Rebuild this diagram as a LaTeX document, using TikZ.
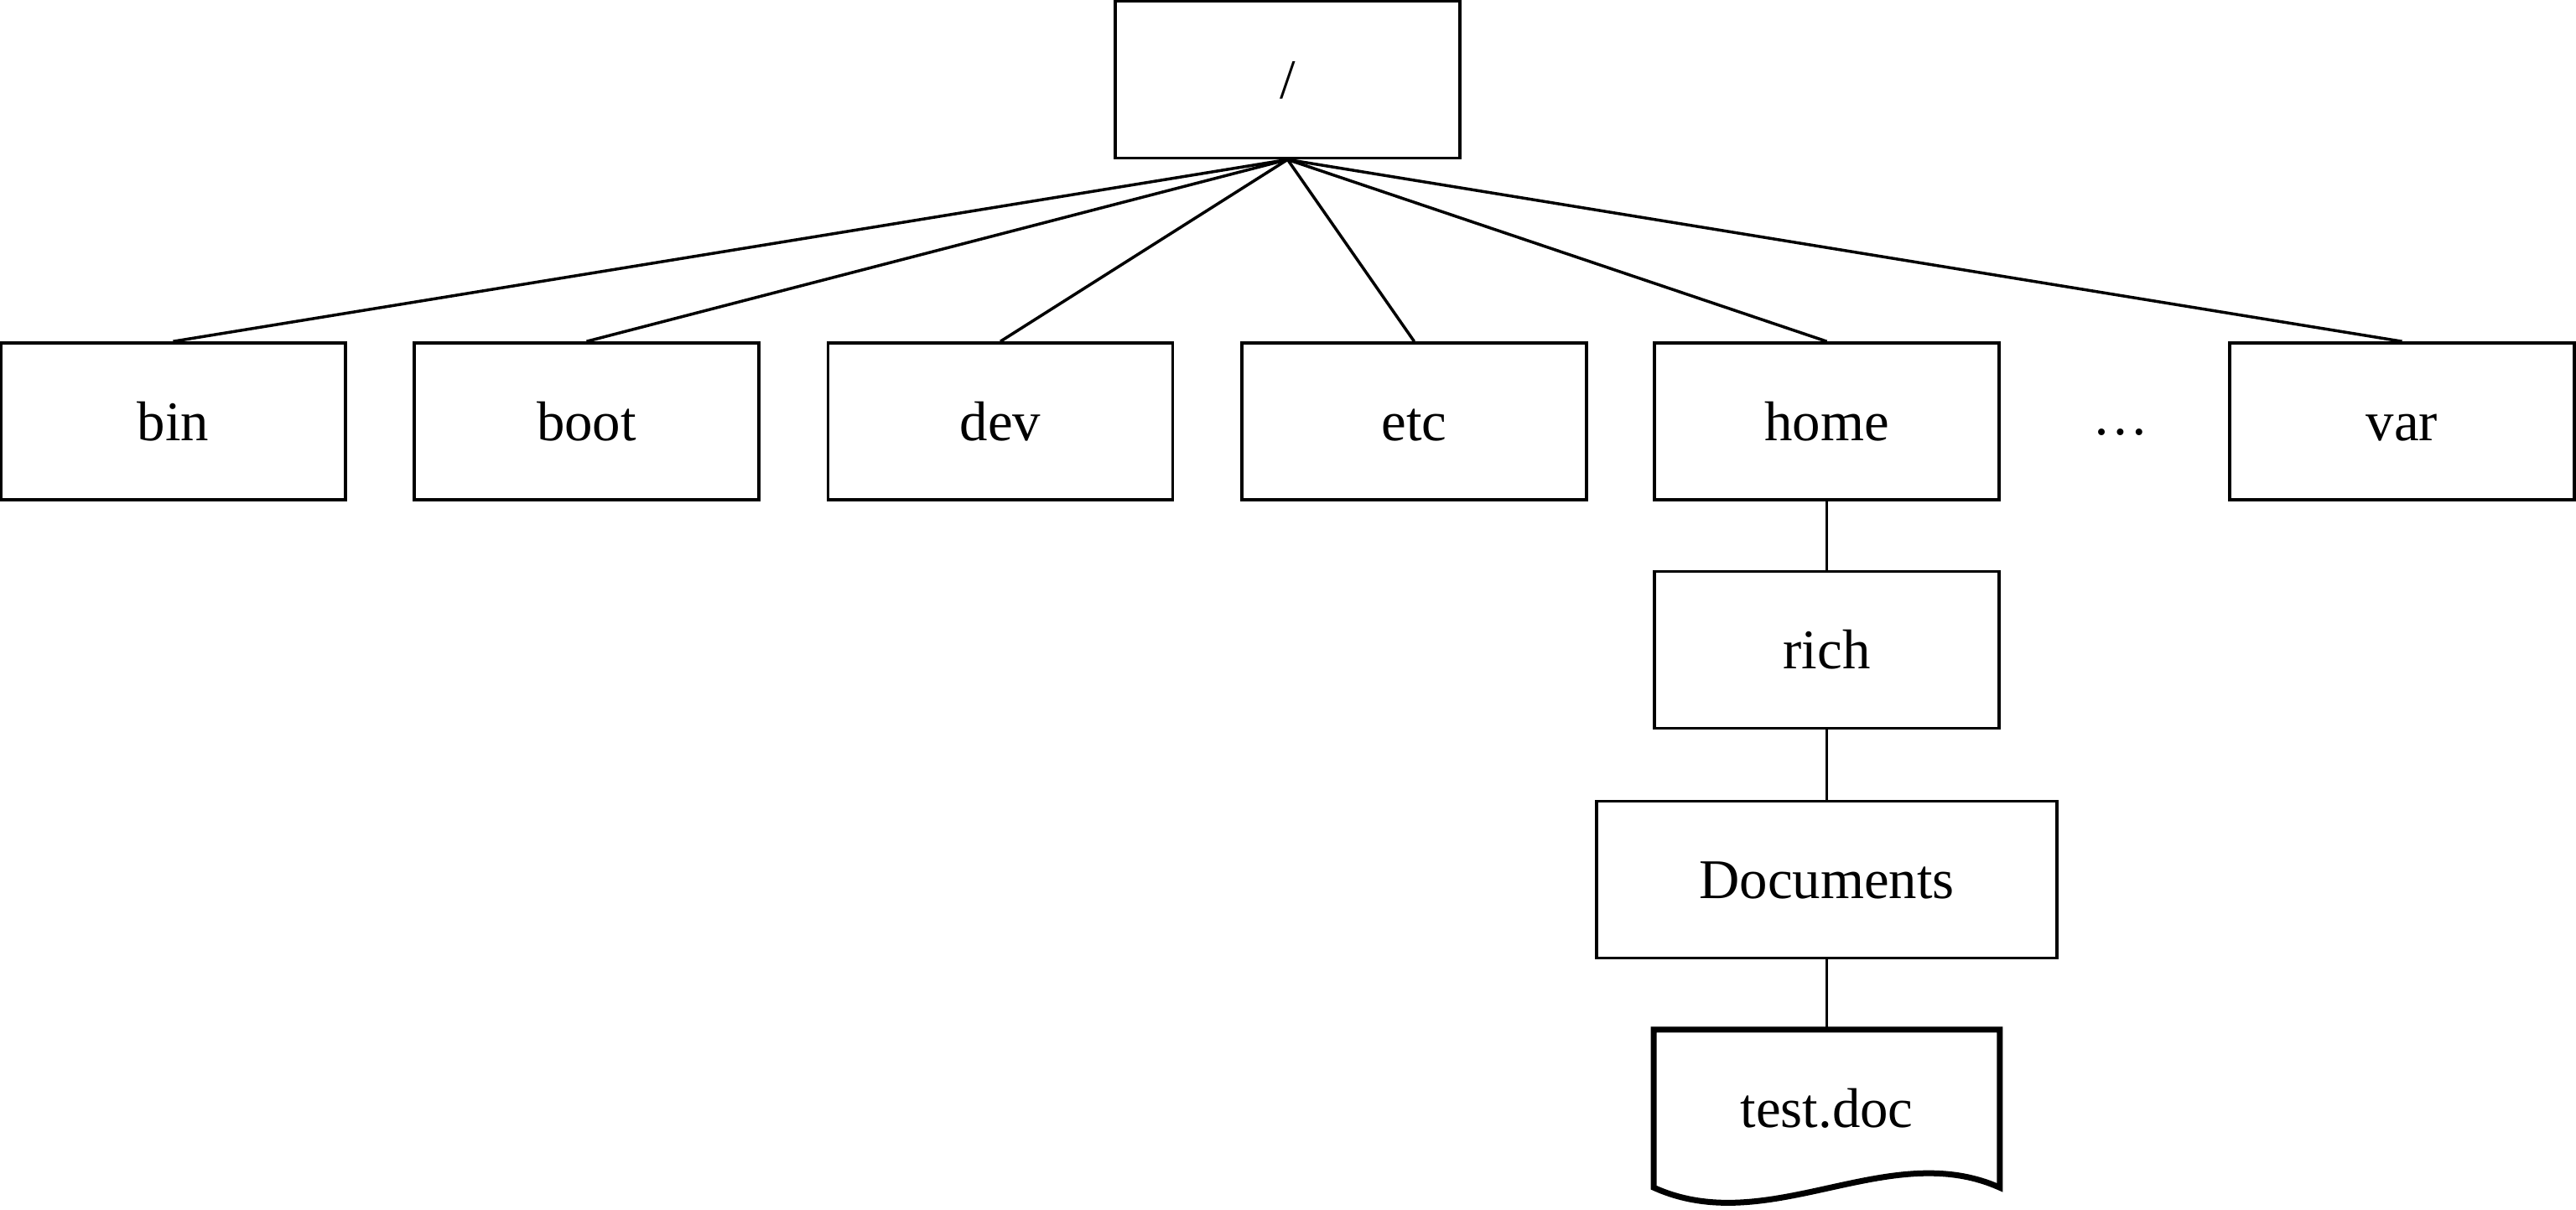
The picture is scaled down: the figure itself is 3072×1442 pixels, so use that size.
\documentclass[tikz,border=0pt]{standalone}
\usepackage{fontspec}
\setmainfont{Liberation Serif}
\usepackage{tikz}

\begin{document}
\begin{tikzpicture}[x={(0.01cm,0)}, y={(0,-0.01cm)}]
            \tikzstyle{label} = [inner sep = 0pt, text height = 14.3pt, text depth = 1.5pt, font = \fontsize{19}{23}\selectfont];
            \tikzstyle{dirbox} = [label, draw, line width = 0.035cm, minimum width = 4.11cm, minimum height = 1.87cm];
            \tikzstyle{link} = [line width = 0.035cm];
            \useasboundingbox (0,0) rectangle (3072,1442);
            \node[dirbox] (root) at (1535.5,95) {/};
            \foreach \l/\x in {bin/206.5, boot/699.5, dev/1193, etc/1686.5, home/2178.5, var/2864.5}
            {
            \node[dirbox] (\l) at (\x,502.5) {\l};
            \draw[link] (root.south) -- (\l.north);}
            \node[label] (more) at (2529,496) {\dots};
            \node[dirbox] (rich) at (2178.5,775) {rich};
            \node[dirbox, minimum width = 5.49cm] (docs) at (2178.5,1049) {Documents};
            \node[label, minimum width = 4.11cm, minimum height = 1.87cm] (file) at (2178.5,1322) {test.doc};
            \draw[line width = 0.07cm, line join = miter] (file.south east) -- (file.north east) -- (file.north west) -- (file.south west)
                .. controls +(137,62) and +(-134,-60) .. (file.south east) -- cycle;
            \draw[link] (home.south) -- (rich.north);
            \draw[link] (rich.south) -- (docs.north);
            \draw[link] (docs.south) -- (file.north);
        \end{tikzpicture}
\end{document}
